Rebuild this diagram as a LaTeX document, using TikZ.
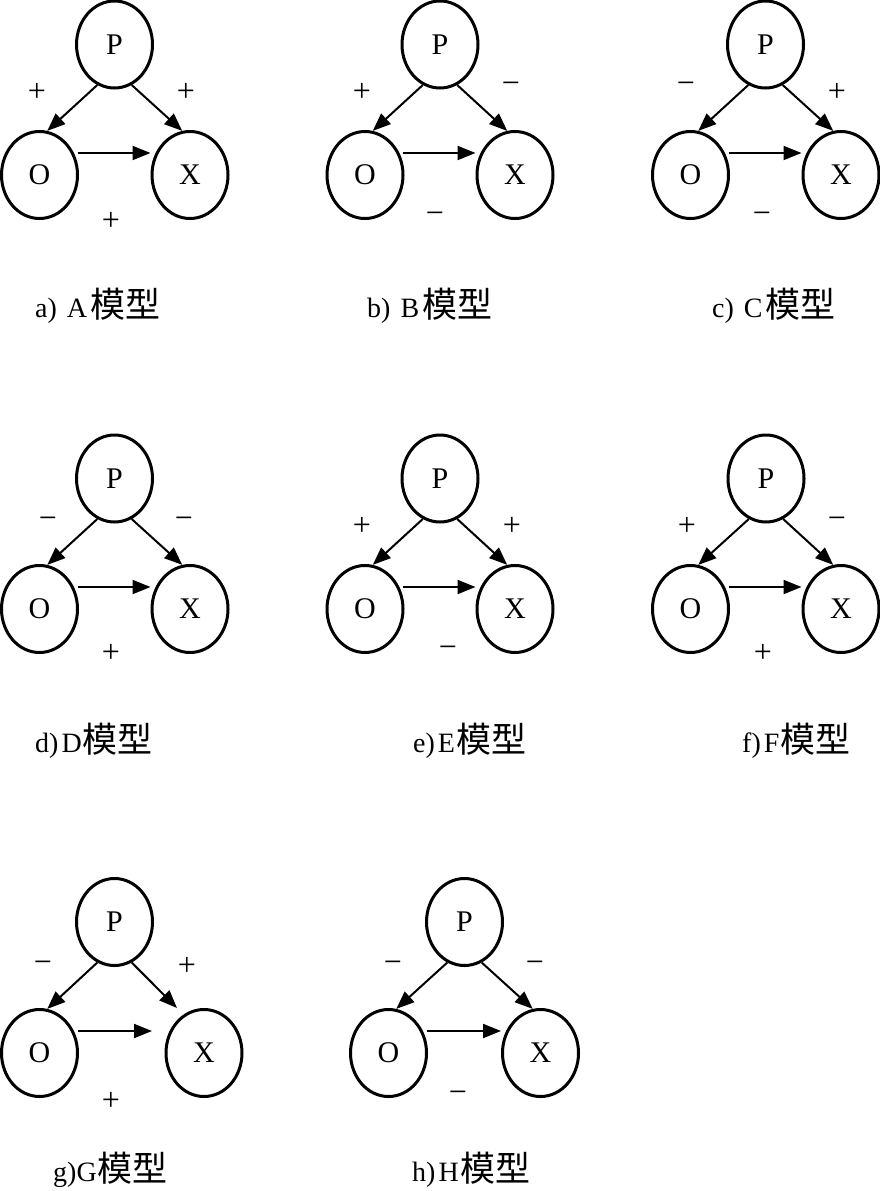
\documentclass[tikz,border=0pt]{standalone}
\usepackage{fontspec}
\setmainfont{Liberation Serif}
\newfontfamily\cjk{Noto Sans CJK SC}
\usetikzlibrary{shapes.geometric,arrows.meta,calc}

\tikzset{
  ell/.style={ellipse, draw, line width=3pt, minimum width=76pt, minimum height=87pt,
    inner sep=0pt, font=\fontsize{30}{30}\selectfont},
  arr/.style={line width=2pt, -{Triangle[length=18pt,width=14pt]}},
  sgn/.style={inner sep=0pt, font=\fontsize{32}{32}\selectfont},
  lab/.style={anchor=base west, inner sep=0pt, font=\fontsize{28}{28}\selectfont},
}
\newcommand\cjkm{{\cjk\fontsize{35}{35}\selectfont 模型}}
% #1 prefix, #2 Px, #3 Py, #4 Ox, #5 Xx
\newcommand\trimodel[5]{%
  \node[ell] (#1P) at (#2,#3) {P};
  \node[ell] (#1O) at (#4,#3+130.5) {O};
  \node[ell] (#1X) at (#5,#3+130.5) {X};
  \draw[arr] (#1P.247) -- (#1O.80);
  \draw[arr] (#1P.-67) -- (#1X.100);
  \draw[arr] ($(#1O.east)+(-1.5,-22)$) -- ($(#1X.west)+(0,-22)$);
}

\begin{document}
\begin{tikzpicture}[x=1pt,y=-1pt]
\useasboundingbox (0,0) rectangle (880,1191);

% a
\trimodel{a}{114.5}{44.5}{39.5}{190}
\node[sgn] (as1) at (37,92) {+};
\node[sgn] (as2) at (186,92) {+};
\node[sgn] (as3) at (111,221) {+};
\node[lab] (la) at (35,317) {a)\hspace{10pt}A\hspace{3pt}\cjkm};

% b
\trimodel{b}{440}{44.5}{365}{515}
\node[sgn] (bs1) at (362,92) {+};
\node[sgn] (bs2) at (511,88) {−};
\node[sgn] (bs3) at (435,218) {−};
\node[lab] (lb) at (367,317) {b)\hspace{10pt}B\hspace{3pt}\cjkm};

% c
\trimodel{c}{765.5}{44.5}{690.5}{841}
\node[sgn] (cs1) at (686,88) {−};
\node[sgn] (cs2) at (837,92) {+};
\node[sgn] (cs3) at (762,218) {−};
\node[lab] (lc) at (712,317) {c)\hspace{10pt}C\hspace{3pt}\cjkm};

% d
\trimodel{d}{114.5}{478.5}{39.5}{190}
\node[sgn] (ds1) at (48,523) {−};
\node[sgn] (ds2) at (184,523) {−};
\node[sgn] (ds3) at (111,653) {+};
\node[lab] (ld) at (35,752) {d)\hspace{3pt}D\hspace{1pt}\cjkm};

% e
\trimodel{e}{440}{478.5}{365}{515}
\node[sgn] (es1) at (362,526) {+};
\node[sgn] (es2) at (512,526) {+};
\node[sgn] (es3) at (448,652) {−};
\node[lab] (le) at (413,752) {e)\hspace{3pt}E\hspace{1pt}\cjkm};

% f
\trimodel{f}{766}{478.5}{690.5}{841}
\node[sgn] (fs1) at (687,526) {+};
\node[sgn] (fs2) at (837,523) {−};
\node[sgn] (fs3) at (763,653) {+};
\node[lab] (lf) at (742,752) {f)\hspace{3pt}F\hspace{1pt}\cjkm};

% g
\node[ell] (gP) at (114.5,922) {P};
\node[ell] (gO) at (39.5,1053) {O};
\node[ell] (gX) at (204,1053) {X};
\coordinate (gXa) at (152,1031);
\coordinate (gXb) at (177,1008);
\draw[arr] (gP.247) -- (gO.80);
\draw[arr] (gP.-67) -- (gXb);
\draw[arr] ($(gO.east)+(-1.5,-22)$) -- (gXa);
\node[sgn] (gs1) at (43,967) {−};
\node[sgn] (gs2) at (187,966) {+};
\node[sgn] (gs3) at (111,1101) {+};
\node[lab] (lg) at (53,1181) {g)G\hspace{1pt}\cjkm};

% h
\node[ell] (hP) at (464.5,922) {P};
\node[ell] (hO) at (388.5,1053) {O};
\node[ell] (hX) at (540.5,1053) {X};
\draw[arr] (hP.247) -- (hO.80);
\draw[arr] (hP.-67) -- (hX.100);
\draw[arr] ($(hO.east)+(-1.5,-22)$) -- ($(hX.west)+(0,-22)$);
\node[sgn] (hs1) at (393,967) {−};
\node[sgn] (hs2) at (535,967) {−};
\node[sgn] (hs3) at (458,1097) {−};
\node[lab] (lh) at (412,1181) {h)\hspace{3pt}H\hspace{2pt}\cjkm};

\end{tikzpicture}
\end{document}
